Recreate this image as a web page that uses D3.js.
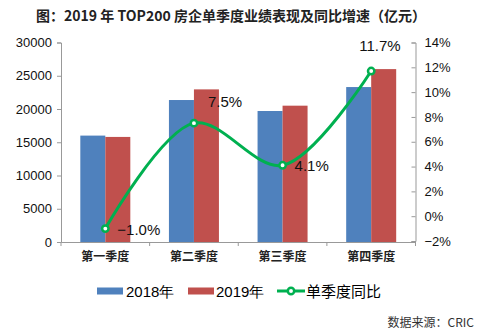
<!DOCTYPE html>
<html>
<head>
<meta charset="utf-8">
<script src="https://cdn.jsdelivr.net/npm/d3@7"></script>
<style>
  body { margin: 0; background: #fff; }
  svg text { font-family: "Liberation Sans", Arial, "Noto Sans CJK SC", sans-serif; }
</style>
</head>
<body>
<svg id="chart" width="478" height="335"></svg>
<script>
const quarters = ['第一季度', '第二季度', '第三季度', '第四季度'];
const sales2018 = [16000, 21350, 19700, 23300];
const sales2019 = [15800, 22950, 20500, 26000];
const growth = [-1.0, 7.5, 4.1, 11.7];
const leftTicks = [0, 5000, 10000, 15000, 20000, 25000, 30000];
const rightTicks = [-2, 0, 2, 4, 6, 8, 10, 12, 14];

const latin = '"Liberation Sans", Arial, sans-serif';
const cjk = '"Noto Sans CJK SC", sans-serif';

const svg = d3.select('#chart');
const plotLeft = 61, plotRight = 415.5, plotTop = 42.5, plotBottom = 242;

// title
svg.append('text')
  .attr('x', 231).attr('y', 21)
  .attr('text-anchor', 'middle')
  .style('font-family', cjk)
  .style('font-weight', 'bold')
  .style('font-size', '14px')
  .attr('fill', '#222')
  .text('图：2019 年 TOP200 房企单季度业绩表现及同比增速（亿元）');

const x = d3.scaleBand().domain(quarters).range([plotLeft, plotRight]);
const yL = d3.scaleLinear().domain([0, 30000]).range([plotBottom, plotTop]);
const yR = d3.scaleLinear().domain([-2, 14]).range([plotBottom - 1, plotTop]);

const barW = 25;

// bars
const g = svg.append('g');
g.selectAll('rect.b18').data(quarters).enter().append('rect')
  .attr('x', d => x(d) + x.bandwidth() / 2 - barW)
  .attr('y', (d, i) => yL(sales2018[i]))
  .attr('width', barW)
  .attr('height', (d, i) => plotBottom - yL(sales2018[i]))
  .attr('fill', '#4F81BD');
g.selectAll('rect.b19').data(quarters).enter().append('rect')
  .attr('x', d => x(d) + x.bandwidth() / 2)
  .attr('y', (d, i) => yL(sales2019[i]))
  .attr('width', barW)
  .attr('height', (d, i) => plotBottom - yL(sales2019[i]))
  .attr('fill', '#C0504D');

// left axis
const axL = svg.append('g').attr('transform', `translate(${plotLeft},0)`)
  .call(d3.axisLeft(yL).tickValues(leftTicks).tickFormat(d3.format('d')).tickSize(4).tickPadding(5));
axL.selectAll('text').style('font-family', latin).style('font-size', '13px').attr('fill', '#111');

// right axis
const axR = svg.append('g').attr('transform', `translate(${plotRight},0)`)
  .call(d3.axisRight(yR).tickValues(rightTicks).tickSize(-4).tickPadding(9)
    .tickFormat(d => (d < 0 ? '−' + Math.abs(d) : d) + '%'));
axR.selectAll('text').style('font-family', latin).style('font-size', '13px').attr('fill', '#111');

// bottom axis
const axB = svg.append('g').attr('transform', `translate(0,${plotBottom})`)
  .call(d3.axisBottom(x).tickSize(0).tickPadding(10));
axB.selectAll('text')
  .style('font-family', cjk)
  .style('font-weight', 'bold')
  .style('font-size', '12px')
  .attr('fill', '#222');
axB.selectAll('.tickmark').data(d3.range(quarters.length + 1)).enter().append('line')
  .attr('x1', i => plotLeft + i * x.bandwidth()).attr('x2', i => plotLeft + i * x.bandwidth())
  .attr('y1', 0).attr('y2', 4).attr('stroke', '#999');

svg.selectAll('.domain').attr('stroke', '#999');
svg.selectAll('.tick line').attr('stroke', '#999');

// line
const pts = quarters.map((q, i) => [x(q) + x.bandwidth() / 2, yR(growth[i])]);
svg.append('path')
  .attr('d', d3.line().curve(d3.curveCatmullRom.alpha(0.5))(pts))
  .attr('fill', 'none').attr('stroke', '#00B050').attr('stroke-width', 3);
svg.selectAll('circle.m').data(pts).enter().append('circle')
  .attr('cx', d => d[0]).attr('cy', d => d[1]).attr('r', 3.2)
  .attr('fill', '#fff').attr('stroke', '#00B050').attr('stroke-width', 2.5);

const labelOff = [[12, 6], [14, -16], [12, 6], [-12, -20]];
svg.selectAll('text.lbl').data(pts).enter().append('text')
  .attr('x', (d, i) => d[0] + labelOff[i][0])
  .attr('y', (d, i) => d[1] + labelOff[i][1])
  .style('font-family', latin)
  .style('font-size', '15px').attr('fill', '#111')
  .text((d, i) => (growth[i] < 0 ? '−' + Math.abs(growth[i]).toFixed(1) : growth[i].toFixed(1)) + '%');

// legend
const lg = svg.append('g').attr('transform', 'translate(0,291)');
lg.append('rect').attr('x', 97).attr('y', -3.5).attr('width', 26).attr('height', 7).attr('fill', '#4F81BD');
lg.append('text').attr('x', 126).attr('y', 5.5).style('font-family', latin).style('font-size', '15px').text('2018年');
lg.append('rect').attr('x', 188).attr('y', -3.5).attr('width', 26).attr('height', 7).attr('fill', '#C0504D');
lg.append('text').attr('x', 216).attr('y', 5.5).style('font-family', latin).style('font-size', '15px').text('2019年');
lg.append('line').attr('x1', 277).attr('x2', 305).attr('y1', 0).attr('y2', 0)
  .attr('stroke', '#00B050').attr('stroke-width', 3);
lg.append('circle').attr('cx', 291).attr('cy', 0).attr('r', 3.2)
  .attr('fill', '#fff').attr('stroke', '#00B050').attr('stroke-width', 2.5);
lg.append('text').attr('x', 306).attr('y', 5.5)
  .style('font-family', cjk).style('font-size', '15px').text('单季度同比');

// source
svg.append('text').attr('x', 474).attr('y', 327).attr('text-anchor', 'end')
  .style('font-family', cjk).style('font-size', '12px')
  .attr('fill', '#333').text('数据来源：CRIC');
</script>
</body>
</html>
